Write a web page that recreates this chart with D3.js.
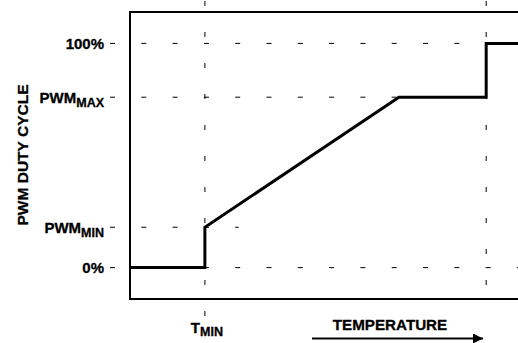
<!DOCTYPE html>
<html>
<head>
<meta charset="utf-8">
<script src="https://cdn.jsdelivr.net/npm/d3@7"></script>
<style>
  body { margin: 0; background: #fff; }
  svg { display: block; }
  text { font-family: "Liberation Sans", Arial, sans-serif; font-weight: bold; fill: #000; stroke: #000; stroke-width: 0.3px; }
</style>
</head>
<body>
<svg id="chart" width="518" height="343"></svg>
<script>
// duty cycle levels (y), in %
var levelMain = ["0%", "PWM", "PWM", "100%"];
var levelSub = ["", "MIN", "MAX", ""];
var levelValues = [0, 18, 76, 100];
// how far each horizontal guide runs (temperature units)
var levelGuideEnd = [100, 28, 69.3, 100];

// temperature markers (x)
var tMin = 19.3;
var tTherm = 91.8;

// the duty cycle curve
var curveTemp = [0, 19.3, 19.3, 69.3, 91.8, 91.8, 100];
var curveDuty = [0, 0, 18, 76, 76, 100, 100];

var svg = d3.select("#chart");

var x = d3.scaleLinear().domain([0, 100]).range([130, 518]);
var y = d3.scaleLinear().domain([-14, 114]).range([299, 12]);

var guideStart = 110;

// horizontal dashed guides
svg.selectAll("line.hguide")
  .data(levelValues)
  .enter().append("line")
  .attr("class", "hguide")
  .attr("x1", guideStart)
  .attr("x2", function(d, i) { return x(levelGuideEnd[i]); })
  .attr("y1", function(d) { return y(d); })
  .attr("y2", function(d) { return y(d); })
  .style("stroke", "#000")
  .style("stroke-width", 1)
  .style("stroke-dasharray", "5,26.3");

// vertical dashed guides
var vGuides = [{t: tMin, bottom: -22}, {t: tTherm, bottom: -15.5}];
svg.selectAll("line.vguide")
  .data(vGuides)
  .enter().append("line")
  .attr("class", "vguide")
  .attr("x1", function(d) { return x(d.t); })
  .attr("x2", function(d) { return x(d.t); })
  .attr("y1", 1)
  .attr("y2", function(d) { return y(d.bottom); })
  .style("stroke", "#000")
  .style("stroke-width", 1)
  .style("stroke-dasharray", "5,26");

// frame: left, top, bottom
var frame = d3.path();
frame.moveTo(x(100), y(114));
frame.lineTo(x(0), y(114));
frame.lineTo(x(0), y(-14));
frame.lineTo(x(100), y(-14));
svg.append("path")
  .attr("d", frame.toString())
  .style("fill", "none")
  .style("stroke", "#000")
  .style("stroke-width", 2);

// curve
var pts = curveTemp.map(function(t, i) { return [t, curveDuty[i]]; });
var line = d3.line()
  .x(function(d) { return x(d[0]); })
  .y(function(d) { return y(d[1]); });
svg.append("path")
  .datum(pts)
  .attr("d", line)
  .style("fill", "none")
  .style("stroke", "#000")
  .style("stroke-width", 3)
  .style("stroke-linejoin", "miter");

// y labels
var labels = svg.selectAll("text.ylab")
  .data(levelValues)
  .enter().append("text")
  .attr("class", "ylab")
  .attr("x", 104)
  .attr("y", function(d) { return y(d) + 5.5; })
  .style("text-anchor", "end")
  .style("font-size", "15px");
labels.append("tspan").text(function(d, i) { return levelMain[i]; });
labels.append("tspan")
  .attr("dy", 4)
  .style("font-size", "12.5px")
  .text(function(d, i) { return levelSub[i]; });

// y axis title
svg.append("text")
  .attr("transform", "translate(28,155) rotate(-90)")
  .style("text-anchor", "middle")
  .style("font-size", "15.5px")
  .text("PWM DUTY CYCLE");

// T_MIN label
var tl = svg.append("text")
  .attr("x", x(tMin) + 2)
  .attr("y", 333)
  .style("text-anchor", "middle")
  .style("font-size", "15px");
tl.append("tspan").text("T");
tl.append("tspan").attr("dy", 3).style("font-size", "12.5px").text("MIN");

// temperature title + arrow
svg.append("text")
  .attr("x", 390)
  .attr("y", 330)
  .style("text-anchor", "middle")
  .style("font-size", "15.2px")
  .text("TEMPERATURE");

svg.append("defs").append("marker")
  .attr("id", "arrow")
  .attr("viewBox", "0 0 10 10")
  .attr("refX", 10)
  .attr("refY", 5)
  .attr("markerWidth", 8)
  .attr("markerHeight", 5)
  .attr("orient", "auto")
  .attr("markerUnits", "strokeWidth")
  .append("path")
  .attr("d", "M0,0L10,5L0,10Z")
  .style("fill", "#000");

svg.append("line")
  .attr("x1", 312)
  .attr("x2", 483)
  .attr("y1", 338.5)
  .attr("y2", 338.5)
  .style("stroke", "#000")
  .style("stroke-width", 2)
  .attr("marker-end", "url(#arrow)");
</script>
</body>
</html>
